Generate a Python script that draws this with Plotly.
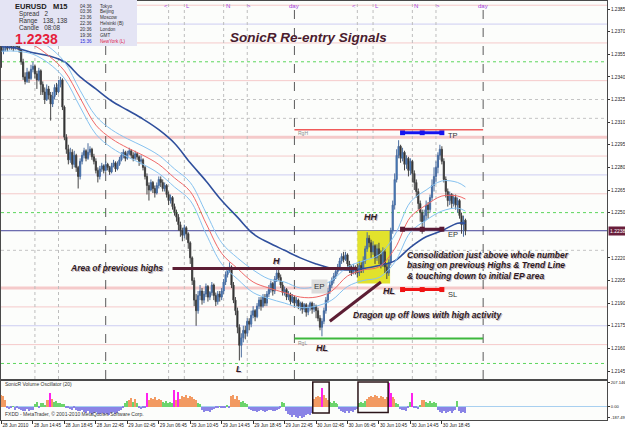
import plotly.graph_objects as go
from datetime import datetime, timedelta

# ---------------- data ----------------
first_bar = datetime(2010, 6, 28, 10, 45)
bar_minutes = 15

opens = [1.2360,1.2357,1.2358,1.2360,1.2359,1.2361,1.2360,1.2359,1.2361,1.2360,
1.2358,1.2350,1.2340,1.2337,1.2343,1.2339,1.2345,1.2347,1.2342,1.2338,1.2344,
1.2335,1.2330,1.2325,1.2332,1.2328,1.2322,1.2327,1.2333,1.2330,1.2335,
1.2338,1.2320,1.2300,1.2292,1.2285,1.2290,1.2282,1.2288,1.2280,1.2274,
1.2284,1.2288,1.2291,1.2286,1.2290,1.2292,1.2287,1.2284,1.2278,1.2274,
1.2279,1.2281,1.2278,1.2282,1.2280,1.2277,1.2281,1.2283,1.2279,1.2282,
1.2285,1.2288,1.2290,1.2286,1.2289,1.2291,1.2288,1.2286,1.2289,1.2287,
1.2284,1.2285,1.2280,1.2274,1.2268,1.2265,1.2270,1.2266,1.2263,1.2268,
1.2272,1.2270,1.2266,1.2268,1.2262,1.2258,1.2260,1.2254,1.2250,1.2247,
1.2242,1.2238,1.2235,1.2240,1.2236,1.2230,1.2220,1.2205,1.2192,1.2185,
1.2195,1.2198,1.2192,1.2196,1.2201,1.2194,1.2197,1.2202,1.2195,1.2191,
1.2196,1.2194,1.2198,1.2204,1.2209,1.2212,1.2214,1.2202,1.2192,1.2185,
1.2174,1.2162,1.2167,1.2172,1.2170,1.2178,1.2176,1.2182,1.2185,1.2181,
1.2188,1.2192,1.2188,1.2194,1.2190,1.2196,1.2199,1.2203,1.2198,1.2206,
1.2210,1.2207,1.2202,1.2197,1.2199,1.2194,1.2196,1.2191,1.2194,1.2190,
1.2192,1.2188,1.2190,1.2186,1.2189,1.2184,1.2187,1.2190,1.2186,1.2188,
1.2185,1.2180,1.2174,1.2178,1.2185,1.2192,1.2198,1.2202,1.2205,1.2208,
1.2211,1.2214,1.2218,1.2221,1.2219,1.2222,1.2216,1.2213,1.2210,1.2214,
1.2212,1.2210,1.2215,1.2212,1.2218,1.2226,1.2233,1.2230,1.2224,1.2228,
1.2220,1.2226,1.2222,1.2216,1.2224,1.2214,1.2210,1.2217,1.2238,1.2255,
1.2272,1.2288,1.2294,1.2286,1.2290,1.2282,1.2286,1.2278,1.2284,1.2276,
1.2270,1.2264,1.2256,1.2250,1.2244,1.2248,1.2255,1.2252,1.2260,1.2268,
1.2274,1.2280,1.2288,1.2292,1.2284,1.2272,1.2264,1.2258,1.2262,1.2256,
1.2260,1.2255,1.2258,1.2248,1.2242,1.2245]

highs = [1.2362,1.2360,1.2362,1.2361,1.2363,1.2362,1.2361,1.2363,1.2362,1.2361,
1.2358,1.2352,1.2343,1.2346,1.2344,1.2348,1.2350,1.2348,1.2344,1.2346,1.2345,
1.2337,1.2333,1.2335,1.2334,1.2330,1.2330,1.2335,1.2336,1.2338,1.2340,
1.2339,1.2321,1.2302,1.2295,1.2293,1.2292,1.2291,1.2289,1.2281,1.2286,
1.2290,1.2293,1.2292,1.2296,1.2294,1.2293,1.2289,1.2286,1.2280,1.2281,
1.2283,1.2282,1.2284,1.2283,1.2281,1.2283,1.2285,1.2284,1.2284,1.2287,
1.2290,1.2292,1.2291,1.2291,1.2293,1.2292,1.2290,1.2291,1.2290,1.2288,
1.2288,1.2286,1.2281,1.2276,1.2270,1.2272,1.2271,1.2268,1.2270,1.2274,
1.2274,1.2272,1.2270,1.2269,1.2264,1.2262,1.2261,1.2256,1.2252,1.2249,
1.2244,1.2240,1.2242,1.2241,1.2237,1.2231,1.2221,1.2207,1.2196,1.2198,
1.2202,1.2200,1.2198,1.2203,1.2202,1.2198,1.2204,1.2203,1.2197,1.2198,
1.2198,1.2200,1.2206,1.2211,1.2214,1.2217,1.2215,1.2204,1.2194,1.2187,
1.2176,1.2170,1.2175,1.2175,1.2180,1.2180,1.2185,1.2188,1.2186,1.2190,
1.2194,1.2194,1.2196,1.2196,1.2198,1.2202,1.2205,1.2204,1.2208,1.2214,
1.2213,1.2209,1.2204,1.2201,1.2200,1.2198,1.2197,1.2196,1.2195,1.2194,
1.2193,1.2191,1.2191,1.2190,1.2190,1.2189,1.2191,1.2191,1.2190,1.2189,
1.2187,1.2182,1.2180,1.2187,1.2194,1.2200,1.2204,1.2207,1.2210,1.2212,
1.2216,1.2220,1.2223,1.2224,1.2224,1.2223,1.2218,1.2215,1.2216,1.2215,
1.2216,1.2218,1.2217,1.2221,1.2228,1.2237,1.2235,1.2232,1.2231,1.2229,
1.2229,1.2230,1.2225,1.2227,1.2226,1.2216,1.2219,1.2240,1.2258,1.2276,
1.2292,1.2298,1.2295,1.2293,1.2291,1.2288,1.2287,1.2286,1.2285,1.2278,
1.2272,1.2266,1.2258,1.2252,1.2252,1.2258,1.2257,1.2262,1.2272,1.2280,
1.2284,1.2290,1.2295,1.2294,1.2286,1.2274,1.2266,1.2264,1.2263,1.2262,
1.2262,1.2260,1.2259,1.2250,1.2248,1.2246]

lows = [1.2346,1.2355,1.2357,1.2357,1.2358,1.2358,1.2357,1.2358,1.2358,1.2356,
1.2348,1.2338,1.2335,1.2336,1.2336,1.2338,1.2343,1.2339,1.2332,1.2337,1.2328,
1.2328,1.2322,1.2324,1.2325,1.2311,1.2320,1.2325,1.2328,1.2329,1.2333,
1.2318,1.2298,1.2289,1.2282,1.2283,1.2279,1.2280,1.2277,1.2266,1.2272,
1.2282,1.2286,1.2284,1.2285,1.2288,1.2285,1.2282,1.2276,1.2270,1.2272,
1.2277,1.2276,1.2277,1.2278,1.2275,1.2276,1.2280,1.2277,1.2278,1.2281,
1.2284,1.2286,1.2284,1.2285,1.2288,1.2286,1.2284,1.2285,1.2285,1.2281,
1.2282,1.2278,1.2272,1.2262,1.2258,1.2264,1.2263,1.2260,1.2262,1.2266,
1.2267,1.2264,1.2264,1.2260,1.2255,1.2256,1.2252,1.2248,1.2244,1.2238,
1.2234,1.2231,1.2233,1.2232,1.2226,1.2216,1.2202,1.2188,1.2175,1.2183,
1.2192,1.2189,1.2190,1.2194,1.2191,1.2192,1.2195,1.2192,1.2188,1.2189,
1.2191,1.2192,1.2196,1.2202,1.2207,1.2210,1.2200,1.2190,1.2182,1.2170,
1.2152,1.2154,1.2164,1.2166,1.2168,1.2172,1.2174,1.2180,1.2178,1.2180,
1.2186,1.2185,1.2187,1.2188,1.2188,1.2194,1.2197,1.2195,1.2196,1.2204,
1.2205,1.2200,1.2195,1.2195,1.2192,1.2192,1.2189,1.2190,1.2187,1.2188,
1.2186,1.2185,1.2183,1.2184,1.2181,1.2182,1.2185,1.2183,1.2184,1.2180,
1.2178,1.2172,1.2168,1.2176,1.2183,1.2190,1.2196,1.2200,1.2203,1.2206,
1.2209,1.2212,1.2216,1.2217,1.2218,1.2214,1.2210,1.2208,1.2209,1.2209,
1.2207,1.2208,1.2210,1.2210,1.2216,1.2224,1.2227,1.2220,1.2222,1.2216,
1.2218,1.2216,1.2213,1.2214,1.2210,1.2206,1.2208,1.2215,1.2236,1.2252,
1.2270,1.2286,1.2283,1.2284,1.2278,1.2279,1.2274,1.2275,1.2270,1.2265,
1.2260,1.2252,1.2244,1.2236,1.2240,1.2245,1.2246,1.2250,1.2258,1.2264,
1.2270,1.2276,1.2285,1.2282,1.2270,1.2260,1.2254,1.2255,1.2253,1.2254,
1.2252,1.2250,1.2246,1.2236,1.2234,1.2235]

closes = [1.2357,1.2358,1.2360,1.2359,1.2361,1.2360,1.2359,1.2361,1.2360,1.2358,
1.2350,1.2340,1.2337,1.2343,1.2339,1.2345,1.2347,1.2342,1.2338,1.2344,1.2335,
1.2330,1.2325,1.2332,1.2328,1.2322,1.2327,1.2333,1.2330,1.2335,1.2338,
1.2320,1.2300,1.2292,1.2285,1.2290,1.2282,1.2288,1.2280,1.2274,1.2284,
1.2288,1.2291,1.2286,1.2290,1.2292,1.2287,1.2284,1.2278,1.2274,1.2279,
1.2281,1.2278,1.2282,1.2280,1.2277,1.2281,1.2283,1.2279,1.2282,1.2285,
1.2288,1.2290,1.2286,1.2289,1.2291,1.2288,1.2286,1.2289,1.2287,1.2284,
1.2285,1.2280,1.2274,1.2268,1.2265,1.2270,1.2266,1.2263,1.2268,1.2272,
1.2270,1.2266,1.2268,1.2262,1.2258,1.2260,1.2254,1.2250,1.2247,1.2242,
1.2238,1.2235,1.2240,1.2236,1.2230,1.2220,1.2205,1.2192,1.2185,1.2195,
1.2198,1.2192,1.2196,1.2201,1.2194,1.2197,1.2202,1.2195,1.2191,1.2196,
1.2194,1.2198,1.2204,1.2209,1.2212,1.2214,1.2202,1.2192,1.2185,1.2174,
1.2162,1.2167,1.2172,1.2170,1.2178,1.2176,1.2182,1.2185,1.2181,1.2188,
1.2192,1.2188,1.2194,1.2190,1.2196,1.2199,1.2203,1.2198,1.2206,1.2210,
1.2207,1.2202,1.2197,1.2199,1.2194,1.2196,1.2191,1.2194,1.2190,1.2192,
1.2188,1.2190,1.2186,1.2189,1.2184,1.2187,1.2190,1.2186,1.2188,1.2185,
1.2180,1.2174,1.2178,1.2185,1.2192,1.2198,1.2202,1.2205,1.2208,1.2211,
1.2214,1.2218,1.2221,1.2219,1.2222,1.2216,1.2213,1.2210,1.2214,1.2212,
1.2210,1.2215,1.2212,1.2218,1.2226,1.2233,1.2230,1.2224,1.2228,1.2220,
1.2226,1.2222,1.2216,1.2224,1.2214,1.2210,1.2217,1.2238,1.2255,1.2272,
1.2288,1.2294,1.2286,1.2290,1.2282,1.2286,1.2278,1.2284,1.2276,1.2270,
1.2264,1.2256,1.2250,1.2244,1.2248,1.2255,1.2252,1.2260,1.2268,1.2274,
1.2280,1.2288,1.2292,1.2284,1.2272,1.2264,1.2258,1.2262,1.2256,1.2260,
1.2255,1.2258,1.2248,1.2242,1.2245,1.2238]

volume_osc = [100,90,60,
-10,-20,-15,5,-25,-10,-20,
-30,-40,-35,-20,-40,-30,-25,
20,40,-10,30,35,10,
60,55,120,65,
40,45,30,35,
20,25,
-5,-10,-20,-25,-15,-30,-35,-40,-30,-45,-50,-40,-55,-60,-50,-45,-60,-65,-55,-60,-50,-65,-70,-55,-45,-60,-50,-35,-25,-15,
30,45,60,75,40,70,35,
-10,-20,-15,-5,
120,60,
75,65,80,60,70,55,
40,35,45,30,40,35,
145,60,130,70,
90,80,100,75,95,85,70,60,
35,20,
-30,-45,-40,-35,-45,-25,-20,
-10,-5,5,-8,-15,-5,10,-10,
90,100,70,95,60,
40,45,30,20,
-20,-30,-40,-35,-45,-40,-30,-35,-45,-40,-30,-25,-35,-40,-30,-20,-15,
40,30,
-40,-60,-75,-85,-70,-90,-95,-80,-100,-85,-70,-60,-75,-50,
70,85,95,80,160,100,75,60,
40,35,45,30,25,
-20,-35,-45,-55,-40,-50,-35,-45,-30,-20,
30,40,35,45,
70,85,95,80,100,90,75,95,85,70,80,
205,120,
85,70,
30,20,
-20,-30,-25,-35,-15,
40,120,
-15,-10,-20,10,
60,55,
40,35,45,30,40,35,
-30,-45,-50,-40,-55,-45,-35,-50,-40,-30,
45,
-35,-50,-45,-55]

ma_bar_index = [0,8,16,24,32,40,48,56,64,72,80,88,96,104,112,120,128,136,144,152,
                160,168,176,184,192,200,208,216,224,232,236]
ema89 = [1.2360,1.2359,1.2356,1.2354,1.2350,1.2340,1.2332,1.2324,1.2318,1.2312,
         1.2305,1.2296,1.2283,1.2271,1.2258,1.2247,1.2236,1.2230,1.2225,1.2220,
         1.2216,1.2213,1.2212,1.2213,1.2215,1.2218,1.2227,1.2234,1.2238,1.2243,1.2243]
ema34_close = [1.2362,1.2362,1.2361,1.2354,1.2344,1.2326,1.2308,1.2299,1.2293,1.2288,
               1.2282,1.2273,1.2264,1.2243,1.2223,1.2213,1.2204,1.2200,1.2197,1.2194,
               1.2194,1.2198,1.2208,1.2212,1.2214,1.2226,1.2247,1.2255,1.2261,1.2261,1.2259]
ema34_high = [1.2367,1.2367,1.2366,1.2360,1.2350,1.2331,1.2314,1.2305,1.2299,1.2294,
              1.2288,1.2279,1.2270,1.2250,1.2230,1.2220,1.2212,1.2206,1.2204,1.2200,
              1.2201,1.2205,1.2214,1.2218,1.2222,1.2235,1.2257,1.2265,1.2271,1.2270,1.2267]
ema34_low = [1.2357,1.2357,1.2355,1.2349,1.2339,1.2320,1.2302,1.2293,1.2287,1.2282,
             1.2276,1.2267,1.2258,1.2236,1.2216,1.2206,1.2197,1.2193,1.2190,1.2187,
             1.2188,1.2192,1.2201,1.2205,1.2207,1.2217,1.2237,1.2245,1.2251,1.2253,1.2251]

# 1.2235 is hidden behind the current-price tag in the original
price_ticks = [1.2145,1.2160,1.2175,1.2190,1.2205,1.2220,1.2250,1.2265,
               1.2280,1.2295,1.2310,1.2325,1.2340,1.2355,1.2370,1.2385]
time_tick_index = [0,16,32,48,64,80,96,112,128,144,160,176,192,208,224]
time_tick_labels = ["28 Jun 2010","28 Jun 14:45","28 Jun 18:45","28 Jun 22:45",
                    "29 Jun 02:45","29 Jun 06:45","29 Jun 10:45","29 Jun 14:45",
                    "29 Jun 18:45","29 Jun 22:45","30 Jun 02:45","30 Jun 06:45",
                    "30 Jun 10:45","30 Jun 14:45","30 Jun 18:45"]

level_prices = [1.23875,1.2375,1.23625,1.2350,1.23375,1.2325,1.23125,1.2300,1.22875,
                1.2275,1.22625,1.2250,1.2225,1.2200,1.21875,1.2175,1.21625,1.2150]
level_kinds = ["eighth","quarter","eighth","half","eighth","grey","grey","whole","eighth",
               "quarter","eighth","half","grey","whole","eighth","quarter","eighth","half"]

session_times = ["2010-06-28 15:00","2010-06-28 18:00","2010-06-29 00:00","2010-06-29 08:00",
                 "2010-06-29 10:00","2010-06-29 15:00","2010-06-29 18:00","2010-06-30 00:00",
                 "2010-06-30 08:00","2010-06-30 10:00","2010-06-30 15:00","2010-06-30 18:00",
                 "2010-07-01 00:00"]
session_names = ["N",">","day","<","L","N",">","day","<","L","N",">","day"]

current_price = 1.2238
range_high = 1.2305
range_low = 1.21665
range_span = ["2010-06-30 00:00","2010-07-01 00:00"]
prev_high_level = 1.2213
prev_high_span = ["2010-06-29 08:30","2010-06-30 08:00"]
dragon_times = ["2010-06-30 04:30","2010-06-30 11:00"]
dragon_prices = [1.2178, 1.2204]
consol_times = ["2010-06-30 08:00","2010-06-30 12:10"]
consol_prices = [1.2203, 1.2238]
trade_times = ["2010-06-30 13:45","2010-06-30 16:15","2010-06-30 18:45"]
take_profit = 1.2303
entry_price = 1.2239
stop_loss = 1.2199
osc_box_times = [["2010-06-30 02:20","2010-06-30 04:25"],["2010-06-30 08:05","2010-06-30 11:55"]]
osc_box_values = [[-54, 212],[-50, 212]]
osc_ticks = [207.1468, 0, -90]
osc_tick_text = ["207.146", "0.00", "-187.49"]

clock_times = ["04:36","03:36","23:36","22:36","20:36","19:36","15:36"]
clock_cities = ["Tokyo","Beijing","Moscow","Helsinki (B)","London","GMT","NewYork (L)"]

# ---------------- figure ----------------
step = timedelta(minutes=bar_minutes)
times = [first_bar + k * step for k in range(len(closes))]
ma_times = [first_bar + k * step for k in ma_bar_index]
x_left = first_bar - step * 0.254
x_right = first_bar + step * 308

W, H = 625, 429
ML, MR, MT, MB = 1, 18, 1, 9
PW, PH = W - ML - MR, H - MT - MB
def px(x):
    return (x - ML) / PW
def py(y):
    return (H - MB - y) / PH
def time_px(t):
    t = datetime.fromisoformat(t) if isinstance(t, str) else t
    return ML + (t - x_left) / (x_right - x_left) * PW

main_dom = [py(379), 1]
osc_dom = [0, py(381)]
ppx = 15083.0
p_top = 1.2385 + (9 - 1) / ppx
p_bot = 1.2145 - (379 - 9 - 362) / ppx

FONT = "Liberation Sans"
fig = go.Figure()

fig.add_trace(go.Candlestick(
    x=times, open=opens, high=highs, low=lows, close=closes,
    increasing=dict(line=dict(color="#4A6C9E", width=1), fillcolor="#2E7FD6"),
    decreasing=dict(line=dict(color="#444444", width=1), fillcolor="#141414"),
    whiskerwidth=0, xaxis="x", yaxis="y", showlegend=False))

fig.add_trace(go.Scatter(x=ma_times, y=ema89, mode="lines",
    line=dict(color="#2F4F9C", width=1.6, shape="spline"), xaxis="x", yaxis="y", showlegend=False))
for arr, col in [(ema34_high, "#86C2F0"), (ema34_low, "#86C2F0"), (ema34_close, "#F06868")]:
    fig.add_trace(go.Scatter(x=ma_times, y=arr, mode="lines",
        line=dict(color=col, width=1, shape="spline"), xaxis="x", yaxis="y", showlegend=False))

for lvl, col in [(take_profit, "#1414F0"), (entry_price, "#5A1A34"), (stop_loss, "#F01414")]:
    fig.add_trace(go.Scatter(x=trade_times, y=[lvl] * len(trade_times), mode="lines+markers",
        line=dict(color=col, width=3), marker=dict(symbol="square", size=5, color=col),
        xaxis="x", yaxis="y", showlegend=False))

def osc_color(v):
    if v < 0:
        return "#8A84E6"
    if v < 50:
        return "#6CD46C"
    if v < 110:
        return "#F29A62"
    return "#FF22EE"
fig.add_trace(go.Bar(x=times, y=volume_osc, marker=dict(color=[osc_color(v) for v in volume_osc], line=dict(width=0)),
    width=bar_minutes * 60000 * 0.7, xaxis="x2", yaxis="y2", showlegend=False))

shapes = []
kind_style = {"eighth": ("#F5CACA", 1, "solid"), "quarter": ("#CDCDF2", 1, "solid"),
              "half": ("#5CD65C", 1, "dot"), "grey": ("#C4C4C4", 1, "dot"),
              "whole": ("#F5CACA", 3, "solid")}
for p, k in zip(level_prices, level_kinds):
    c, w, d = kind_style[k]
    shapes.append(dict(type="line", xref="x domain", yref="y", x0=0, x1=1, y0=p, y1=p,
                       line=dict(color=c, width=w, dash=d), layer="below"))
for t, n in zip(session_times, session_names):
    if n == "day":
        ln = dict(color="#5A5A5A", width=1, dash="dash")
    else:
        ln = dict(color="#BDBDBD", width=1, dash="dot")
    shapes.append(dict(type="line", xref="x", yref="y domain", x0=t, x1=t, y0=0, y1=1, line=ln, layer="below"))
shapes.append(dict(type="line", xref="x domain", yref="y", x0=0, x1=1, y0=current_price, y1=current_price,
                   line=dict(color="#45459A", width=1), layer="below"))
shapes.append(dict(type="rect", xref="x", yref="y", x0=consol_times[0], x1=consol_times[1],
                   y0=consol_prices[0], y1=consol_prices[1], fillcolor="#E2E22C", line=dict(width=0), layer="below"))
shapes.append(dict(type="line", xref="x", yref="y", x0=range_span[0], x1=range_span[1], y0=range_high, y1=range_high,
                   line=dict(color="#F05A5A", width=1.5)))
shapes.append(dict(type="line", xref="x", yref="y", x0=range_span[0], x1=range_span[1], y0=range_low, y1=range_low,
                   line=dict(color="#3DB83D", width=2)))
shapes.append(dict(type="line", xref="x", yref="y", x0=prev_high_span[0], x1=prev_high_span[1],
                   y0=prev_high_level, y1=prev_high_level, line=dict(color="#5C1E34", width=3)))
shapes.append(dict(type="line", xref="x", yref="y", x0=dragon_times[0], x1=dragon_times[1],
                   y0=dragon_prices[0], y1=dragon_prices[1], line=dict(color="#5C1E34", width=3)))
for (t0, t1), (v0, v1) in zip(osc_box_times, osc_box_values):
    shapes.append(dict(type="rect", xref="x2", yref="y2", x0=t0, x1=t1, y0=v0, y1=v1,
                       line=dict(color="#2A1418", width=1.5)))

# info panel box (covers the top-left corner of the chart)
INFO_W, INFO_H = 137, 46
shapes.append(dict(type="rect", xref="paper", yref="paper", x0=px(0), x1=px(INFO_W), y0=py(INFO_H), y1=py(0),
                   fillcolor="#E4E4F4", line=dict(width=0), layer="above"))

ann = []
for t, n in zip(session_times, session_names):
    if time_px(t) < INFO_W + 4:
        continue  # hidden behind the info panel in the original
    xs = {"day": 0, "<": -3, ">": 2, "L": 4, "N": 4}[n]
    ann.append(dict(x=t, y=1.0, xref="x", yref="y domain", text=n, showarrow=False, xshift=xs,
                    yanchor="top", font=dict(family=FONT, size=6, color="#A23EDC")))

def txt(x, y, s, size, color="#202020", anchor="left", bold=False, italic=False, **kw):
    ann.append(dict(x=px(x), y=py(y), xref="paper", yref="paper", xanchor=anchor, yanchor="middle",
                    text=s, showarrow=False,
                    font=dict(family=FONT, size=size, color=color, weight="bold" if bold else "normal",
                              style="italic" if italic else "normal"), **kw))
txt(13, 6, "EURUSD   M15", 7.5, bold=True)
txt(17, 14.5, "Spread   2", 6.3, color="#333333")
txt(17, 21, "Range   138, 138", 6.3, color="#333333")
txt(17, 27.5, "Candle   08:08", 6.3, color="#333333")
txt(13, 39, "1.2238", 14, color="#E61E3C", bold=True)
for k, (tm, city) in enumerate(zip(clock_times, clock_cities)):
    last = k == len(clock_times) - 1
    txt(78, 6 + k * 5.85, tm, 4.6, color="#2828DC" if last else "#303030")
    txt(98, 6 + k * 5.85, city, 4.6, color="#E0204A" if last else "#303030")

txt(308, 38, "SonicR Re-entry Signals", 13.5, color="#4A1C2E", anchor="center", bold=True, italic=True)
txt(3, 384, "SonicR Volume Oscillator (20)", 5, color="#333333")
txt(3, 414, "FXDD - MetaTrader, \u00a9 2001-2010 MetaQuotes Software Corp.", 5, color="#333333")

def lab(t, p, s, size=9, anchor="center", color="#2E1A24", bold=True, italic=True, **kw):
    ann.append(dict(x=t, y=p, xref="x", yref="y", xanchor=anchor, yanchor="middle", text=s, showarrow=False,
                    font=dict(family=FONT, size=size, color=color, weight="bold" if bold else "normal",
                              style="italic" if italic else "normal",
                              shadow="1px 1px 0px #c9b9bf" if bold else "none"), **kw))
lab("2010-06-29 07:30", prev_high_level, "Area of previous highs", 8.5, anchor="right")
lab("2010-06-29 21:45", 1.2218, "H")
lab("2010-06-29 17:00", 1.21466, "L")
lab("2010-06-30 03:30", 1.21605, "HL")
lab("2010-06-30 12:00", 1.2198, "HL")
lab("2010-06-30 09:45", 1.2247, "HH")
lab("2010-06-30 03:15", 1.2201, "EP", 8, color="#333333", bold=False, italic=False, bgcolor="#DCDCDC", borderpad=2)
lab("2010-06-30 07:15", 1.2182, "Dragon up off lows with high activity", 8.5, anchor="left")
lab("2010-06-30 14:00", 1.2222, "Consolidation just above whole number", 8.5, anchor="left")
lab("2010-06-30 14:00", 1.2215, "basing on previous Highs &amp; Trend Line", 8.5, anchor="left")
lab("2010-06-30 14:00", 1.2208, "&amp; touching down to initial EP area", 8.5, anchor="left")
lab("2010-06-30 19:15", take_profit - 0.0002, "TP", 7.5, anchor="left", color="#333333", bold=False, italic=False)
lab("2010-06-30 19:15", entry_price - 0.00035, "EP", 7.5, anchor="left", color="#333333", bold=False, italic=False)
lab("2010-06-30 19:15", stop_loss - 0.00033, "SL", 7.5, anchor="left", color="#333333", bold=False, italic=False)
lab("2010-06-30 00:10", range_high - 0.0002, "RgH", 5, anchor="left", color="#8A8A8A", bold=False, italic=False)
lab("2010-06-30 00:10", range_low - 0.0003, "RgL", 5, anchor="left", color="#8A8A8A", bold=False, italic=False)
ann.append(dict(x=1, y=current_price, xref="paper", yref="y", xanchor="left", yanchor="middle",
                text="1.2238", showarrow=False, bgcolor="#6A1F3C", borderpad=1, xshift=1,
                font=dict(family=FONT, size=5, color="white")))

axis_common = dict(showgrid=False, zeroline=False, showline=True, mirror=True, linecolor="#4A4A4A",
                   linewidth=1, automargin=False)
tick_font = dict(family=FONT, size=4.7, color="#222222")
fig.update_layout(
    width=W, height=H, margin=dict(l=ML, r=MR, t=MT, b=MB, autoexpand=False),
    paper_bgcolor="white", plot_bgcolor="#FCFDFB", showlegend=False, hovermode=False,
    xaxis=dict(domain=[0, 1], anchor="y", type="date", range=[x_left, x_right], showticklabels=False,
               ticks="", rangeslider=dict(visible=False), **axis_common),
    yaxis=dict(domain=main_dom, anchor="x", side="right", range=[p_bot, p_top],
               tickvals=price_ticks, ticktext=["%.4f" % v for v in price_ticks],
               ticks="outside", ticklen=2, tickcolor="#333333", tickfont=tick_font, **axis_common),
    xaxis2=dict(domain=[0, 1], anchor="y2", type="date", range=[x_left, x_right], matches="x",
                tickvals=[first_bar + k * step for k in time_tick_index], ticktext=time_tick_labels,
                tickangle=0, ticklabelposition="outside right", ticks="outside", ticklen=3,
                tickcolor="#333333", tickfont=tick_font, **axis_common),
    yaxis2=dict(domain=osc_dom, anchor="x2", side="right", range=[-114.4, 221],
                tickvals=osc_ticks, ticktext=osc_tick_text, ticks="outside", ticklen=2, tickcolor="#333333",
                tickfont=dict(family=FONT, size=4.1, color="#222222"),
                showgrid=False, showline=True, mirror=True, linecolor="#4A4A4A",
                linewidth=1, automargin=False,
                zeroline=True, zerolinecolor="#A8D0F0", zerolinewidth=1),
    shapes=shapes, annotations=ann, bargap=0, boxgap=0.15,
)
fig.write_html("out.html")
